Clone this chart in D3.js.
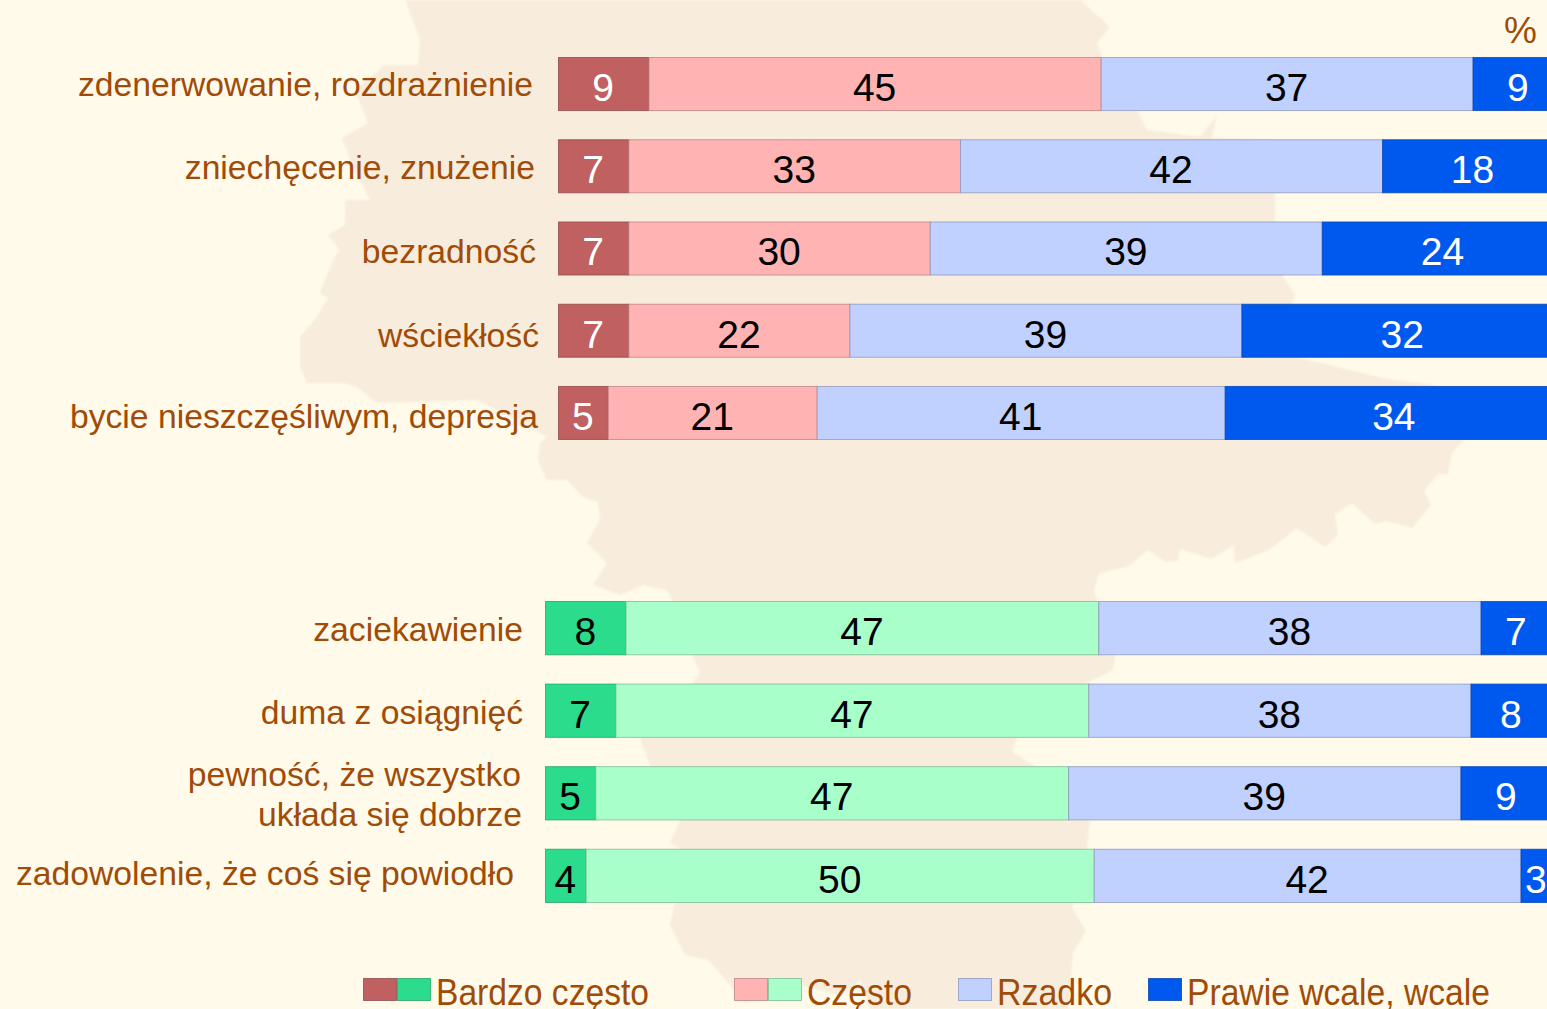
<!DOCTYPE html>
<html>
<head>
<meta charset="utf-8">
<script src="https://cdn.jsdelivr.net/npm/d3@7"></script>
<style>
    html, body { margin: 0; padding: 0; background: #fffaea; overflow: hidden; }
    svg { display: block; font-family: "Liberation Sans", Arial, sans-serif; }
</style>
</head>
<body>
<svg id="chart" width="1547" height="1009"></svg>
<script>
// values
const seriesKeys = ['veryOften', 'often', 'rarely', 'hardly'];

const topLabels = ['zdenerwowanie, rozdrażnienie', 'zniechęcenie, znużenie', 'bezradność', 'wściekłość', 'bycie nieszczęśliwym, depresja'];
const topVeryOften = [9, 7, 7, 7, 5];
const topOften = [45, 33, 30, 22, 21];
const topRarely = [37, 42, 39, 39, 41];
const topHardly = [9, 18, 24, 32, 34];

const bottomLabels = ['zaciekawienie', 'duma z osiągnięć', 'pewność, że wszystko|układa się dobrze', 'zadowolenie, że coś się powiodło'];
const bottomVeryOften = [8, 7, 5, 4];
const bottomOften = [47, 47, 47, 50];
const bottomRarely = [38, 38, 39, 42];
const bottomHardly = [7, 8, 9, 3];

const legendLabels = ['Bardzo często', 'Często', 'Rzadko', 'Prawie wcale, wcale'];

// background map, just decoration
const mapOutline = [
    [405,0],[420,40],[418,65],[385,65],[355,90],[368,123],[342,138],[352,165],[370,200],[345,200],[345,225],[328,235],
    [340,250],[333,260],[320,293],[328,298],[317,317],[300,337],[300,367],[307,383],[343,383],[357,387],[377,403],[477,400],
    [517,420],[547,437],[540,443],[538,460],[547,480],[567,480],[583,497],[598,502],[600,520],[587,543],[607,563],[593,585],
    [620,595],[643,585],[667,590],[672,600],[693,657],[700,673],[693,683],[640,738],[650,765],[680,822],[670,843],[680,848],
    [675,903],[670,925],[685,955],[708,960],[727,981],[745,1003],[770,995],[800,985],[820,990],[842,996],[860,980],[870,1009],
    [1069,1009],[1073,952],[1086,931],[1072,908],[1087,847],[1090,822],[1033,765],[1012,752],[1017,738],[1087,683],[1113,670],
    [1115,657],[1099,608],[1094,590],[1099,573],[1129,566],[1148,550],[1166,562],[1178,561],[1180,549],[1211,559],[1234,545],
    [1235,563],[1269,550],[1297,528],[1325,547],[1338,535],[1335,514],[1352,503],[1375,524],[1387,521],[1412,528],[1431,505],
    [1424,491],[1438,474],[1448,474],[1452,453],[1464,440],[1433,385],[1383,378],[1300,358],[1292,303],[1295,295],[1283,277],
    [1275,220],[1275,140],[1212,138],[1217,115],[1200,137],[1147,130],[1138,112],[1125,90],[1102,57],[1097,43],[1110,27],[1080,0]
];

const redColors = ['#c06060', '#ffb3b3', '#c0d0ff', '#0059ee'];
const greenColors = ['#2adc8c', '#a8ffca', '#c0d0ff', '#0059ee'];
const redText = ['#fff', '#000', '#000', '#fff'];
const greenText = ['#000', '#000', '#000', '#fff'];
const brown = '#a04c08';

const svg = d3.select('#chart');

svg.append('filter')
    .attr('id', 'soft')
    .append('feGaussianBlur')
    .attr('stdDeviation', 1.2);

svg.append('path')
    .attr('d', d3.line()(mapOutline) + 'Z')
    .attr('fill', '#f8ecdc')
    .attr('filter', 'url(#soft)');

function buildRows(labels, columns) {
    return labels.map(function(label, i) {
        const row = {label: label};
        seriesKeys.forEach(function(key, k) { row[key] = columns[k][i]; });
        return row;
    });
}

// rows do not always add up to 100, so every bar gets stretched to full width
function drawGroup(rows, opts) {
    const x = d3.scaleLinear().domain([0, 1]).range(opts.xRange);
    const y = d3.scaleBand()
        .domain(rows.map(function(d) { return d.label; }))
        .range(opts.yRange)
        .paddingInner(0.355);

    const stacked = d3.stack().keys(seriesKeys).offset(d3.stackOffsetExpand)(rows);

    const layer = svg.append('g').selectAll('g')
        .data(stacked)
        .enter().append('g');

    layer.selectAll('rect')
        .data(function(s) {
            return s.map(function(p) { return {p: p, s: s.index, key: s.key}; });
        })
        .enter().append('rect')
        .attr('x', function(d) { return x(d.p[0]) + 0.5; })
        .attr('y', function(d) { return y(d.p.data.label) + 0.5; })
        .attr('width', function(d) { return x(d.p[1]) - x(d.p[0]); })
        .attr('height', y.bandwidth())
        .attr('fill', function(d) { return opts.colors[d.s]; })
        .attr('stroke', function(d) { return d3.color(opts.colors[d.s]).darker(0.9); })
        .attr('stroke-opacity', 0.75);

    layer.selectAll('text')
        .data(function(s) {
            return s.map(function(p) { return {p: p, s: s.index, key: s.key}; });
        })
        .enter().append('text')
        .attr('x', function(d) { return (x(d.p[0]) + x(d.p[1])) / 2; })
        .attr('y', function(d) { return y(d.p.data.label) + 44; })
        .attr('text-anchor', 'middle')
        .attr('font-size', 39)
        .attr('fill', function(d) { return opts.text[d.s]; })
        .text(function(d) { return d.p.data[d.key]; });

    rows.forEach(function(d, i) {
        const lines = d.label.split('|');
        const base = y(d.label) + opts.labelBase[i];
        lines.forEach(function(line, n) {
            svg.append('text')
                .attr('x', opts.labelRight[i][n])
                .attr('y', base + n * 40)
                .attr('text-anchor', 'end')
                .attr('font-size', 33.7)
                .attr('fill', brown)
                .text(line);
        });
    });
}

drawGroup(buildRows(topLabels, [topVeryOften, topOften, topRarely, topHardly]), {
    xRange: [558, 1563],
    yRange: [57, 439],
    colors: redColors,
    text: redText,
    labelRight: [[533], [535], [536], [539], [538]],
    labelBase: [39, 40, 42, 43, 42]
});

drawGroup(buildRows(bottomLabels, [bottomVeryOften, bottomOften, bottomRarely, bottomHardly]), {
    xRange: [545, 1551],
    yRange: [601, 902],
    colors: greenColors,
    text: greenText,
    labelRight: [[523], [523], [521, 522], [514]],
    labelBase: [40, 40, 20, 36]
});

svg.append('text')
    .attr('x', 1537)
    .attr('y', 43)
    .attr('text-anchor', 'end')
    .attr('font-size', 37)
    .attr('fill', brown)
    .text('%');

// legend
const swatchX = [[363, 397], [734, 768], [958], [1148]];
const swatchColors = [[redColors[0], greenColors[0]], [redColors[1], greenColors[1]], [redColors[2]], [redColors[3]]];
const legendTextX = [436, 807, 997, 1187];
const legendTextW = [213, 105, 115, 303];

legendLabels.forEach(function(label, i) {
    swatchX[i].forEach(function(sx, j) {
        svg.append('rect')
            .attr('x', sx + 0.5)
            .attr('y', 978.5)
            .attr('width', 33)
            .attr('height', 22)
            .attr('fill', swatchColors[i][j])
            .attr('stroke', d3.color(swatchColors[i][j]).darker(0.9))
            .attr('stroke-opacity', 0.75);
    });
    svg.append('text')
        .attr('x', legendTextX[i])
        .attr('y', 1005)
        .attr('font-size', 36)
        .attr('textLength', legendTextW[i])
        .attr('lengthAdjust', 'spacingAndGlyphs')
        .attr('fill', brown)
        .text(label);
});
</script>
</body>
</html>
